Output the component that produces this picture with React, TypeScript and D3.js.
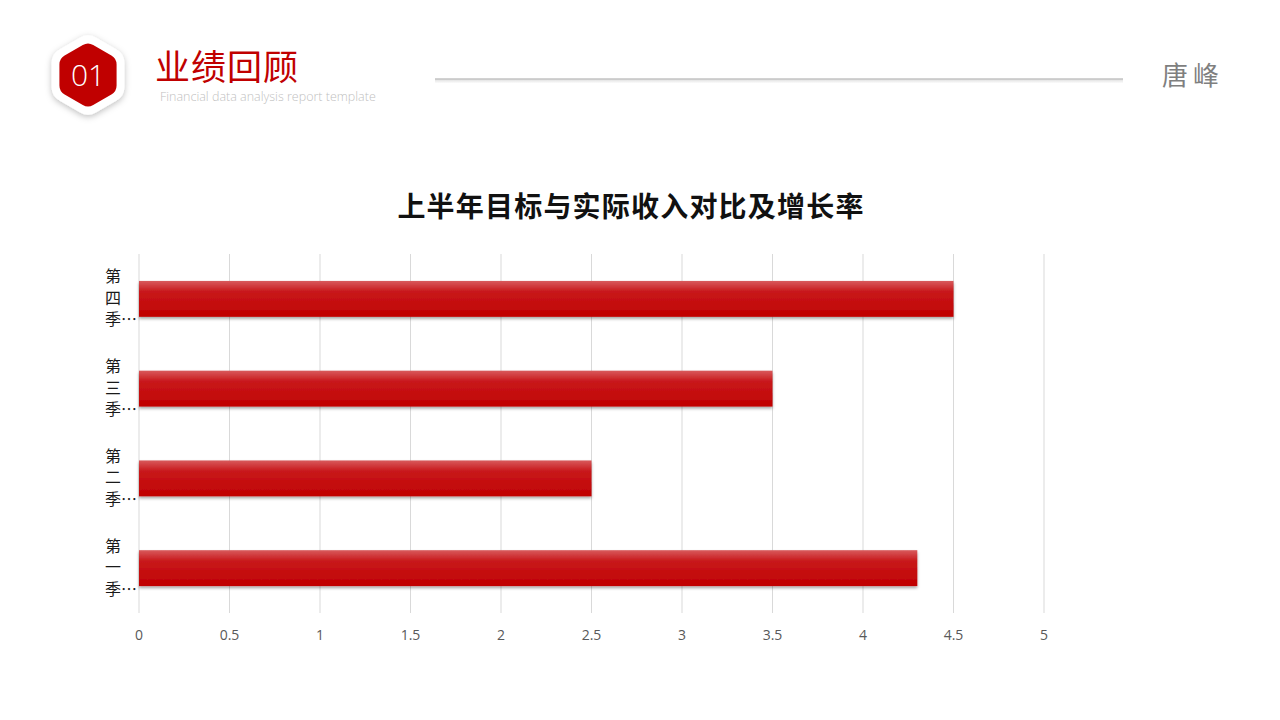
import * as d3 from "d3";

const categories = ["第一季度", "第二季度", "第三季度", "第四季度"];
const values = [4.3, 2.5, 3.5, 4.5];
const xTicks = [0, 0.5, 1, 1.5, 2, 2.5, 3, 3.5, 4, 4.5, 5];
const chartTitle = "上半年目标与实际收入对比及增长率";

const W = 1280, H = 720;
const plot = { left: 139, right: 1044, top: 254, bottom: 613 };

function hexPath(cx: number, cy: number, r: number, round: number) {
  const pts = d3.range(6).map(i => {
    const a = (Math.PI / 3) * i - Math.PI / 2;
    return [cx + r * Math.cos(a), cy + r * Math.sin(a)] as [number, number];
  });
  // rounded corners
  let d = "";
  pts.forEach((p, i) => {
    const prev = pts[(i + 5) % 6], next = pts[(i + 1) % 6];
    const t = round / r;
    const a = [p[0] + (prev[0] - p[0]) * t, p[1] + (prev[1] - p[1]) * t];
    const b = [p[0] + (next[0] - p[0]) * t, p[1] + (next[1] - p[1]) * t];
    d += (i === 0 ? "M" : "L") + a[0] + "," + a[1] + "Q" + p[0] + "," + p[1] + " " + b[0] + "," + b[1];
  });
  return d + "Z";
}

export default function App() {
  const x = d3.scaleLinear().domain([0, 5]).range([plot.left, plot.right]);
  // reversed so 第一季度 sits at the bottom
  const y = d3.scaleBand<string>().domain([...categories].reverse()).range([plot.top, plot.bottom])
    .paddingInner(0.6).paddingOuter(0.3);

  return (
    <svg width={W} height={H} style={{ position: "absolute", left: 0, top: 0, background: "#fff" }}
      fontFamily="'Noto Sans CJK SC', 'Noto Sans', sans-serif">
      <defs>
        <linearGradient id="barGrad" x1="0" y1="0" x2="0" y2="1">
          <stop offset="0" stopColor="#d85a5c" />
          <stop offset="0.3" stopColor="#c8181b" />
          <stop offset="1" stopColor="#c00000" />
        </linearGradient>
        <linearGradient id="lineShade" x1="0" y1="0" x2="0" y2="1">
          <stop offset="0" stopColor="#000" stopOpacity="0.12" />
          <stop offset="1" stopColor="#000" stopOpacity="0" />
        </linearGradient>
        <filter id="barShadow" x="-5%" y="-30%" width="110%" height="170%">
          <feDropShadow dx="0" dy="2" stdDeviation="1.6" floodColor="#000" floodOpacity="0.35" />
        </filter>
        <filter id="hexShadow" x="-40%" y="-40%" width="180%" height="180%">
          <feDropShadow dx="0" dy="2" stdDeviation="3" floodColor="#000" floodOpacity="0.25" />
        </filter>
      </defs>

      {/* header */}
      <path d={hexPath(88, 75, 42, 9)} fill="#fff" filter="url(#hexShadow)" />
      <path d={hexPath(88, 75, 33, 6)} fill="#c00000" />
      <text x={88} y={86} textAnchor="middle" fill="#fff" fontSize={30} fontWeight={300}
        fontFamily="'Open Sans', sans-serif">01</text>
      <text x={155} y={80} fill="#c00000" fontSize={35} fontWeight={400} letterSpacing={1}>业绩回顾</text>
      <text x={160} y={101} fill="#bfbfbf" fontSize={12.5} fontWeight={300}
        fontFamily="'Open Sans', sans-serif">Financial data analysis report template</text>
      <rect x={435} y={79.5} width={688} height={4} fill="url(#lineShade)" />
      <line x1={435} x2={1123} y1={79} y2={79} stroke="#a6a6a6" strokeWidth={1.2} />
      <text x={1162} y={85} fill="#7f7f7f" fontSize={26} letterSpacing={5}>唐峰</text>

      {/* chart title */}
      <text x={631} y={217} textAnchor="middle" fill="#111" fontSize={28} fontWeight={700}
        letterSpacing={1.2}>{chartTitle}</text>

      {/* gridlines */}
      {xTicks.map(t => (
        <line key={t} x1={x(t)} x2={x(t)} y1={plot.top} y2={plot.bottom} stroke="#d9d9d9" strokeWidth={1} />
      ))}

      {/* bars */}
      {categories.map((c, i) => (
        <rect key={c} x={x(0)} y={y(c)!} width={x(values[i]) - x(0)} height={y.bandwidth()}
          fill="url(#barGrad)" filter="url(#barShadow)" />
      ))}

      {/* x tick labels */}
      {xTicks.map(t => (
        <text key={t} x={x(t)} y={640} textAnchor="middle" fill="#595959" fontSize={14}
          fontFamily="'Open Sans', sans-serif">{d3.format("")(t)}</text>
      ))}

      {/* category labels, stacked vertically and truncated */}
      {categories.map(c => {
        const cy = y(c)! + y.bandwidth() / 2;
        const lines = [c[0], c[1], c[2] + "…"];
        return (
          <g key={c}>
            {lines.map((s, k) => (
              <text key={k} x={105} y={cy + (k - 1) * 21.5 + 5} fill="#1a1a1a" fontSize={16}>{s}</text>
            ))}
          </g>
        );
      })}
    </svg>
  );
}
